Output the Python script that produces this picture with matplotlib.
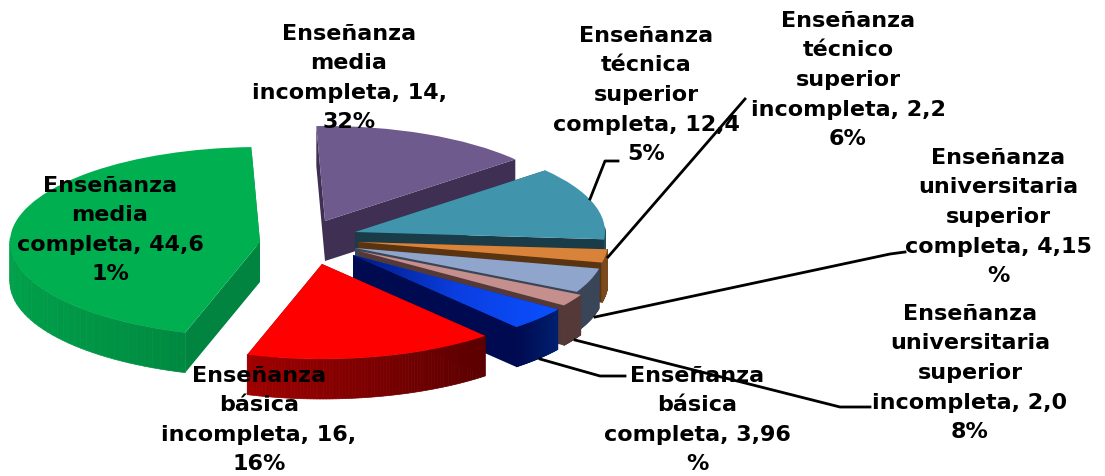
import numpy as np
import matplotlib
matplotlib.use('Agg')
import matplotlib.pyplot as plt
from matplotlib.colors import LinearSegmentedColormap, to_rgb
from matplotlib.patches import Wedge
from matplotlib.transforms import Affine2D

# Chart values
values = [44.61, 14.32, 12.45, 2.26, 4.15, 2.08, 3.96, 16.16]
labels = ['Enseñanza\nmedia\ncompleta, 44,6\n1%',
          'Enseñanza\nmedia\nincompleta, 14,\n32%',
          'Enseñanza\ntécnica\nsuperior\ncompleta, 12,4\n5%',
          'Enseñanza\ntécnico\nsuperior\nincompleta, 2,2\n6%',
          'Enseñanza\nuniversitaria\nsuperior\ncompleta, 4,15\n%',
          'Enseñanza\nuniversitaria\nsuperior\nincompleta, 2,0\n8%',
          'Enseñanza\nbásica\ncompleta, 3,96\n%',
          'Enseñanza\nbásica\nincompleta, 16,\n16%']

# Styles, same order as values
top_colors = ['#00b050', '#6f5a8e', '#4095ad', '#d9833a', '#8fa5cc', '#c48f8c', '#0a50e0', '#ff0000']
wall_left = ['#00a04a', '#4a3a66', '#2f6f82', '#7a4a1c', '#3a4658', '#553838', '#000a50', '#a00000']
wall_right = ['#007f3c', '#3a2c52', '#20505f', '#7a4a1c', '#3a4658', '#553838', '#002070', '#5a0000']
cut_colors = ['#00843f', '#3f2f52', '#1a3c48', '#5a3410', '#3a4658', '#553838', '#000a50', '#700000']
apex_x = [260, 325, 355, 358, 355, 359, 353, 322]
apex_y = [243, 222, 233, 243, 249, 252, 256, 265]
label_x = [110, 349, 646, 848, 998, 970, 697, 259]
label_y = [230, 78, 95, 80, 217, 373, 420, 420]

start_angle = 252.6
rx, ry = 250, 95
depth = 40

# Slices go clockwise from the start angle
sweep = np.array(values) / sum(values) * 360
ends = start_angle - np.cumsum(sweep)
starts = ends + sweep

fig = plt.figure(figsize=(11.05, 4.77), dpi=100)
ax = fig.add_axes([0, 0, 1, 1])

def draw_slice(i, z):
    cx, cy = apex_x[i], apex_y[i]
    a1, a2 = ends[i], starts[i]
    ang = np.radians(np.linspace(a1, a2, 80))
    px = cx + rx * np.cos(ang)
    py = cy - ry * np.sin(ang)

    # cut faces going down from the centre
    for k in [0, -1]:
        ax.fill([cx, px[k], px[k], cx], [cy, py[k], py[k] + depth, cy + depth],
                color=cut_colors[i], lw=0, zorder=z)

    # outer wall, shaded along the arc
    c1 = np.array(to_rgb(wall_left[i]))
    c2 = np.array(to_rgb(wall_right[i]))
    for k in range(len(ang) - 1):
        if np.sin(ang[k]) < 0.05:
            t = (px[k] - px.min()) / (px.max() - px.min() + 1)
            ax.fill([px[k], px[k + 1], px[k + 1], px[k]],
                    [py[k], py[k + 1], py[k + 1] + depth, py[k] + depth],
                    color=c1 + (c2 - c1) * t, lw=0.5, zorder=z + 0.1)

    # top face
    tr = Affine2D().scale(rx, -ry).translate(cx, cy) + ax.transData
    top = Wedge((0, 0), 1, a1, a2, transform=tr, facecolor=top_colors[i],
                edgecolor='none', zorder=z + 0.2)
    ax.add_patch(top)

    # the blue slice has a gradient on top
    if i == 6:
        cmap = LinearSegmentedColormap.from_list('blue_top', ['#001a80', '#0a3ee0', '#0a50ff'])
        im = ax.imshow(np.linspace(0, 1, 100).reshape(1, -1), cmap=cmap, aspect='auto',
                       extent=[cx, px.max(), py.max(), cy], zorder=z + 0.3)
        im.set_clip_path(top)

# back to front
for z, i in enumerate([1, 0, 2, 3, 4, 5, 6, 7]):
    draw_slice(i, z + 1)

ax.set_xlim(0, 1105)
ax.set_ylim(477, 0)
ax.axis('off')

# Leader lines
ax.plot([590, 605, 618], [200, 162, 162], color='black', lw=2, zorder=20)
ax.plot([608, 745], [258, 100], color='black', lw=2, zorder=20)
ax.plot([595, 890, 905], [318, 255, 253], color='black', lw=2, zorder=20)
ax.plot([575, 840, 870], [341, 408, 408], color='black', lw=2, zorder=20)
ax.plot([540, 600, 625], [360, 377, 377], color='black', lw=2, zorder=20)

for i in range(len(labels)):
    ax.text(label_x[i], label_y[i], labels[i], ha='center', va='center', multialignment='center',
            fontsize=16, fontweight='bold', family='DejaVu Sans', linespacing=1.6, color='black', zorder=30)

fig.savefig('out.png', dpi=100)
